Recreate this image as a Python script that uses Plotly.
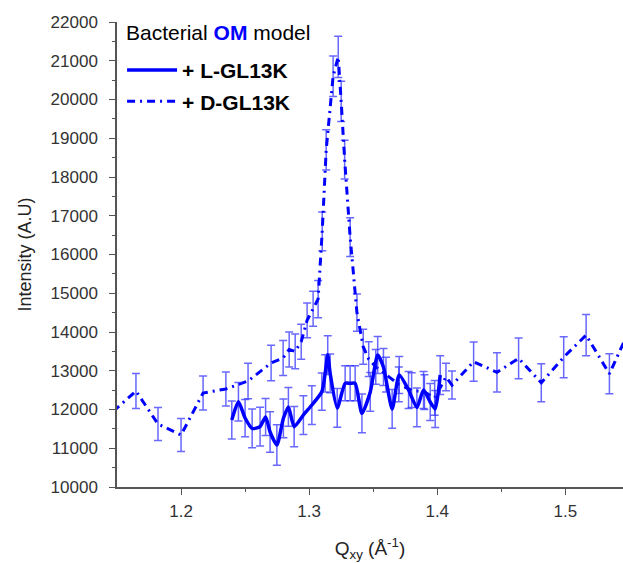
import plotly.graph_objects as go

# ---- data ----
D_q = [1.147, 1.1648, 1.182, 1.200, 1.2172, 1.235, 1.2523, 1.2703, 1.2797, 1.2844,
       1.2891, 1.2938, 1.2984, 1.3031, 1.3070, 1.3102, 1.3133, 1.3187, 1.3227, 1.3250,
       1.3277, 1.3320, 1.3373, 1.3422, 1.3465, 1.352, 1.36, 1.37, 1.38, 1.39,
       1.398, 1.4068, 1.4115, 1.4284, 1.4466, 1.4635, 1.4812, 1.4987, 1.5162, 1.5344, 1.552]
D_I = [11950, 12477, 11626, 11342, 12426, 12530, 12735, 13200, 13330, 13550,
       13500, 13750, 14300, 14600, 14850, 16600, 18700, 20600, 21100, 19950,
       18450, 16450, 14500, 13620, 13300, 13100, 12900, 12650, 12500, 12450,
       12300, 12840, 12630, 13234, 12960, 13320, 12690, 13350, 13920, 12920, 14200]
D_err = [450, 450, 426, 426, 440, 440, 460, 460, 450, 450,
         450, 450, 450, 450, 480, 500, 520, 520, 530, 520,
         500, 500, 480, 450, 450, 450, 450, 450, 450, 450,
         450, 354, 361, 508, 507, 524, 490, 529, 530, 516, 520]

L_q = [1.2396, 1.2448, 1.2500, 1.2555, 1.2617, 1.2660, 1.2695, 1.2748, 1.2799, 1.2838,
       1.2883, 1.2955, 1.3021, 1.3099, 1.3125, 1.3145, 1.3164, 1.3219, 1.3281, 1.3320,
       1.3359, 1.3412, 1.3477, 1.3535, 1.3580, 1.3648, 1.3703, 1.3776, 1.3841, 1.3893,
       1.3945, 1.3984, 1.4023]
L_I = [11730, 12200, 11780, 11510, 11560, 11806, 11420, 11084, 11773, 12065,
       11556, 11858, 12116, 12460, 12934, 13406, 12934, 12039, 12676, 12676,
       12676, 11902, 12452, 13406, 13097, 12013, 12890, 12503, 12052, 12503,
       12193, 12013, 12890]
L_err = [490, 494, 480, 500, 500, 480, 520, 520, 500, 500,
         520, 500, 500, 480, 480, 500, 500, 500, 450, 450,
         450, 500, 500, 480, 480, 500, 480, 480, 500, 480,
         480, 480, 500]

x_ticks = [1.2, 1.3, 1.4, 1.5]
y_ticks = list(range(10000, 22001, 1000))

BLUE = "#0000FF"
ERR = "rgba(40,40,255,0.7)"
FONT = "Liberation Sans, Arial, sans-serif"

fig = go.Figure()
fig.add_trace(go.Scatter(
    x=D_q, y=D_I, mode="lines", name="<b>+ D-GL13K</b>", legendrank=2, legendgroup="D",
    line=dict(color=BLUE, width=3, dash="8px,5px,2px,5px"),
    error_y=dict(type="data", array=D_err, color=ERR, thickness=1.5, width=4),
))
fig.add_trace(go.Scatter(
    x=L_q, y=L_I, mode="lines", name="<b>+ L-GL13K</b>", legendrank=1, legendgroup="L",
    line=dict(color=BLUE, width=3.5, shape="spline", smoothing=0.6),
    error_y=dict(type="data", array=L_err, color=ERR, thickness=1.5, width=4),
))

axis_common = dict(
    showline=True, linecolor="#555555", linewidth=1.5,
    ticks="outside", ticklen=6, tickwidth=1.2, tickcolor="#555555",
    showgrid=False, zeroline=False,
    tickfont=dict(family=FONT, size=17, color="#333333"),
    minor=dict(ticks="outside", ticklen=3, tickwidth=1, tickcolor="#555555"),
)

fig.update_xaxes(
    range=[1.15, 1.545], tickvals=x_ticks, ticktext=[f"{v:.1f}" for v in x_ticks],
    minor_tickvals=[1.25, 1.35, 1.45],
    ticklabelstandoff=2,
    title=dict(text="Q<sub>xy</sub> (Å<sup>-1</sup>)", font=dict(family=FONT, size=19, color="#222222"), standoff=22),
    **axis_common,
)
fig.update_yaxes(
    range=[10000, 22000], tickvals=y_ticks, ticktext=[str(v) for v in y_ticks],
    minor_dtick=500, minor_tick0=10000,
    ticklabelstandoff=8,
    title=dict(text="Intensity (A.U)", font=dict(family=FONT, size=18, color="#222222"), standoff=14),
    **axis_common,
)

fig.update_layout(
    width=623, height=563,
    margin=dict(l=117, r=0, t=22, b=76),
    plot_bgcolor="white", paper_bgcolor="white",
    showlegend=True,
    legend=dict(
        x=0.01, y=0.94, xanchor="left", yanchor="top",
        bgcolor="rgba(0,0,0,0)", borderwidth=0,
        font=dict(family=FONT, size=21, color="black"),
        itemwidth=50, tracegroupgap=1,
    ),
    annotations=[dict(
        text="Bacterial <b><span style='color:#0000FF'>OM</span></b> model",
        xref="paper", yref="paper", x=0.0138, y=0.977, xanchor="left", yanchor="middle",
        showarrow=False, font=dict(family=FONT, size=21, color="black"),
    )],
)

fig.write_html("out.html")
